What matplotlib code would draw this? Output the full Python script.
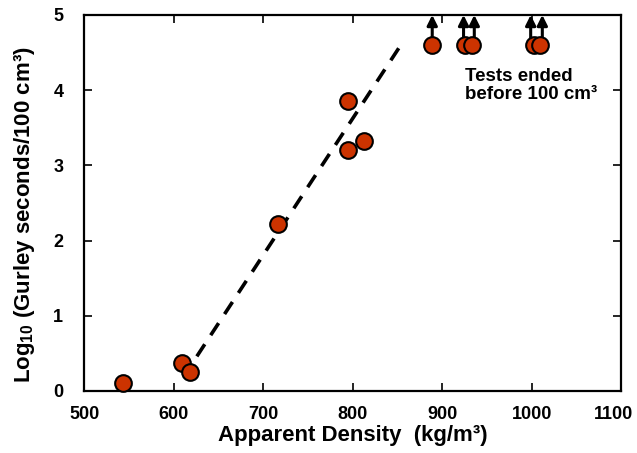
import matplotlib
matplotlib.use("Agg")
import matplotlib.pyplot as plt
from matplotlib.transforms import ScaledTranslation

plt.rcParams.update(
    {
        "font.family": ["Liberation Sans", "DejaVu Sans"],
        "font.weight": "bold",
        "mathtext.default": "regular",
    }
)

FILL = "#CC3300"
INK = "#000000"

# measured points
density = [543, 609, 618, 717, 795, 795, 813, 889, 926, 933, 1003, 1009]
log_gurley = [0.11, 0.37, 0.25, 2.22, 3.85, 3.21, 3.32, 4.60, 4.60, 4.60, 4.60, 4.60]

# tests that ran out before 100 cm3 (arrows pointing up)
arrow_x = [889, 924, 936, 999, 1012]
arrow_y0 = 4.66
arrow_y1 = 5.0

# dashed trend line
trend_x = [626, 855]
trend_y = [0.46, 4.62]

fig = plt.figure(figsize=(6.37, 4.53), dpi=100)
ax = fig.add_axes([0.132, 0.137, 0.843, 0.830])

ax.plot(trend_x, trend_y, color=INK, linestyle=(0, (4, 3)), linewidth=2.6, zorder=2)

for x in arrow_x:
    ax.annotate(
        "",
        xy=(x, arrow_y1),
        xytext=(x, arrow_y0),
        arrowprops=dict(arrowstyle="-|>", color=INK, lw=2.2, mutation_scale=15, shrinkA=0, shrinkB=0),
        zorder=3,
        annotation_clip=False,
    )

ax.plot(
    density,
    log_gurley,
    linestyle="none",
    marker="o",
    markersize=12,
    markerfacecolor=FILL,
    markeredgecolor=INK,
    markeredgewidth=1.5,
    zorder=4,
    clip_on=False,
)

ax.text(
    926, 4.30, "Tests ended\nbefore 100 cm³",
    ha="left", va="top", fontsize=13.5, fontweight="bold", linespacing=1.1,
)

ax.set_xlim(500, 1100)
ax.set_ylim(0, 5)
ax.set_xticks(range(500, 1101, 100))
ax.set_yticks(range(0, 6))
ax.tick_params(direction="in", length=6, width=1.2, top=True, right=True, labelsize=13)
ax.tick_params(axis="x", pad=11)
ax.tick_params(axis="y", pad=15)
for lbl in ax.get_xticklabels() + ax.get_yticklabels():
    lbl.set_fontweight("bold")
# last x label sits pulled in from the right edge
last = ax.get_xticklabels()[-1]
last.set_transform(last.get_transform() + ScaledTranslation(-8 / 100, 0, fig.dpi_scale_trans))
for s in ax.spines.values():
    s.set_linewidth(1.6)

ax.set_xlabel("Apparent Density  (kg/m³)", fontsize=16, fontweight="bold")
ax.set_ylabel("Log$_{10}$ (Gurley seconds/100 cm³)", fontsize=16, fontweight="bold")
ax.xaxis.set_label_coords(0.5, -0.09)
ax.yaxis.set_label_coords(-0.088, 0.468)

fig.savefig("out.png", dpi=100)
